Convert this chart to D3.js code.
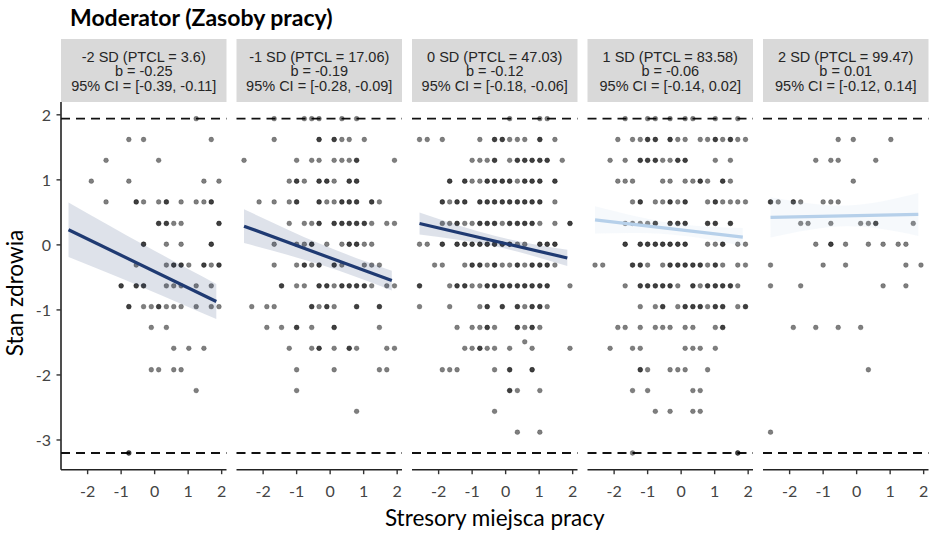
<!DOCTYPE html>
<html><head><meta charset="utf-8">
<script src="https://cdn.jsdelivr.net/npm/d3@7"></script>
<style>body{margin:0;background:#fff}svg{display:block}</style>
</head><body>
<svg id="c" width="933" height="533"></svg>
<script>
// ---------- data ----------
const titleText = "Moderator (Zasoby pracy)";
const xTitle = "Stresory miejsca pracy";
const yTitle = "Stan zdrowia";
const stripLabels = [
  ["-2 SD (PTCL = 3.6)", "b = -0.25", "95% CI = [-0.39, -0.11]"],
  ["-1 SD (PTCL = 17.06)", "b = -0.19", "95% CI = [-0.28, -0.09]"],
  ["0 SD (PTCL = 47.03)", "b = -0.12", "95% CI = [-0.18, -0.06]"],
  ["1 SD (PTCL = 83.58)", "b = -0.06", "95% CI = [-0.14, 0.02]"],
  ["2 SD (PTCL = 99.47)", "b = 0.01", "95% CI = [-0.12, 0.14]"]
];
const xTicks = [-2, -1, 0, 1, 2];
const yTicks = [2, 1, 0, -1, -2, -3];
// observed (discrete) values of the predictor and outcome
const xLevels = [-2.57,-2.34,-2.12,-1.89,-1.67,-1.45,-1.22,-1.00,-0.77,-0.55,-0.33,-0.10,0.12,0.35,0.57,0.79,1.02,1.24,1.47,1.69,1.92];
const yLevels = [1.94,1.62,1.30,0.98,0.66,0.33,0.01,-0.31,-0.63,-0.95,-1.27,-1.59,-1.92,-2.24,-2.56,-2.88,-3.20];
const refLines = [1.94, -3.20];
// points per panel: one list per outcome level (yLevels order), entries = index into xLevels (repeated = overlapping points)
const panel1 = [
 [17],[8,10,19],[5,12],[3,8,18,20],
 [5,9,9,10,12,13,13,15,17,18,19,19],
 [12,12,13,13,14,15,20,20],
 [10,10,13,15,19,19],
 [9,13,14,14,15,15,16,18,18,19,20,20],
 [7,7,9,9,10,10,13,14,15,17,19],
 [8,8,10,11,12,12,13,14,15,17,19,20],
 [11,13],[14,16,18],[11,12,14,15],[17],[],[],[8,8]
];
const panel2 = [
 [4,8,9,10,13,15],
 [4,10,10,12,12,13,14,16],
 [0,7,9,10,12,13,14,15,15,20],
 [6,7,7,8,10,10,11,11,12,14,14,15,15],
 [2,4,6,7,7,10,10,11,12,13,13,14,14,15,15,17,17,18],
 [6,8,9,10,10,12,12,13,13,14,14,15,15,16,16,17,19,20],
 [4,7,8,9,9,11,13,14,14,15,15,16,17],
 [4,7,8,8,9,10,10,12,12,13,16,17,18],
 [5,5,7,8,10,10,11,11,12,13,13,14,14,15,15,16,16,17,19,20],
 [1,3,4,9,9,10,11,11,12,15,15,18,18],
 [3,5,7,7,9,12,12,18],
 [6,9,10,10,12,14,14,15,19,20],
 [7,12,18,19],[7],[15],[],[]
];
const panel3 = [
 [12,16,17],
 [0,1,3,8,10,10,11,11,12,13,14,16,16,18],
 [7,8,9,10,10,12,13,13,14,14,15,15,16,16,17,17,19],
 [4,4,6,6,7,8,9,9,10,10,11,11,12,12,13,14,14,15,15,16,16,18,18],
 [3,3,4,5,5,6,6,8,8,9,9,10,10,11,11,12,12,13,13,14,14,15,15,16,16,18],
 [3,4,5,5,6,7,8,8,9,9,10,10,11,12,12,13,13,14,14,15,15,16,18,20,20],
 [0,1,3,3,5,5,6,6,7,7,8,8,9,9,10,10,11,11,12,12,13,14,16,16,17,17,18,18],
 [2,3,6,7,7,8,8,9,10,10,11,12,13,13,14,15,15,16,16,17,17,18],
 [0,0,4,5,5,6,6,7,8,9,9,10,10,11,11,12,12,13,13,14,14,15,15,16,16,17,17,20],
 [0,4,8,9,9,11,11,13,13,14,15,15,16,16,17],
 [5,7,8,9,9,10,13,13,14,15,15,16],
 [6,7,8,8,9,10,12,15,20],
 [3,4,5,10,12,12,15,15],
 [12,12,13,16],[10],[13,16],[]
];
const panel4 = [
 [4,7,8,10,12,13,16,19],
 [3,5,6,7,7,8,8,10,10,11,12,14,15,16,16,17,18,18,19,20],
 [2,4,6,6,7,7,8,8,9,10,11,11,12,12,16,18],
 [3,4,5,9,10,12,13,14,14,15,17,17,18],
 [5,6,6,8,9,10,10,11,12,12,15,16,16,17,18,19,20],
 [4,5,6,7,8,8,10,10,11,11,12,12,15,15,16,16,18,18],
 [4,4,6,6,7,7,8,8,9,9,10,10,11,11,12,12,15,16,17,17,19,20],
 [0,1,5,5,6,6,7,9,10,10,11,11,12,12,13,13,14,14,15,16,16,17,19,20],
 [4,6,6,7,7,8,8,9,9,10,10,11,13,13,14,15,15,16,16,17,17,18,18,19],
 [6,8,9,9,11,12,12,13,13,14,14,15,16,16,17,17,19,20,20],
 [3,4,6,8,9,10,12,13,16,17,17],
 [2,5,6,12,13,14,16],
 [6,6,7,10,11,12,15],
 [5,7,13,14],[8,10,13,14],[],[5,19,19]
];
const panel5 = [
 [],[9,11,16],[6,8,9,14],[11],
 [0,0,1,3,3,4,7,8,9],
 [4,5,8,12,13,14,14,19],
 [6,8,8,10,13,15,17,18],
 [0,7,10,18,20],
 [0,4,15,18],
 [],[3,6,9,12],[],[13],[],[],[0],[]
];
const panelPoints = [panel1, panel2, panel3, panel4, panel5];
// a point off the grid (panel 3)
const extraPoints = [{panel: 2, x: 0.57, y: -1.49}];
// simple slopes
const intercepts = [-0.41, -0.20, 0.02, 0.23, 0.45];
const slopes = [-0.25, -0.19, -0.12, -0.06, 0.01];
const lineRange = [-2.57, 1.84];
// CI half-widths read at ciX
const ciX = [-2.57, -0.30, 1.84];
const ciHalf = [
  [0.42, 0.33, 0.27],
  [0.26, 0.16, 0.15],
  [0.17, 0.08, 0.125],
  [0.21, 0.09, 0.14],
  [0.31, 0.16, 0.33]
];
const significant = [true, true, true, false, false];

// ---------- layout ----------
const svg = d3.select('#c');
const left0 = 61, panelW = 165.5, gap = 10;
const plotTop = 102, plotBottom = 469.7, stripTop = 39;
const darkCol = "#1f3a72", lightCol = "#b6d0ea";

const xr = d3.extent(xLevels), yr = d3.extent(yLevels);
const xPad = (xr[1]-xr[0])*0.05, yPad = (yr[1]-yr[0])*0.05;
const x = d3.scaleLinear().domain([xr[0]-xPad, xr[1]+xPad]).range([0, panelW]);
const y = d3.scaleLinear().domain([yr[0]-yPad, yr[1]+yPad]).range([plotBottom, plotTop]);

const labelFont = "Lato, 'Open Sans', sans-serif";

// title
svg.append('text').attr('x', 70).attr('y', 25.5)
  .attr('font-family', labelFont).attr('font-weight', 700).attr('font-size', 23)
  .attr('fill', '#000').text(titleText);

// y title
svg.append('text').attr('transform', `translate(23,293) rotate(-90)`)
  .attr('text-anchor', 'middle').attr('font-family', labelFont).attr('font-size', 22.5)
  .attr('fill', '#000').text(yTitle);

// x title
svg.append('text').attr('x', left0 + (5*panelW + 4*gap)/2).attr('y', 526)
  .attr('text-anchor', 'middle').attr('font-family', labelFont).attr('font-size', 22.5)
  .attr('fill', '#000').text(xTitle);

// y axis (first panel only)
const ya = svg.append('g');
ya.append('line').attr('x1', left0).attr('x2', left0).attr('y1', plotTop).attr('y2', plotBottom)
  .attr('stroke', '#222').attr('stroke-width', 1.6);
yTicks.forEach(t => {
  ya.append('line').attr('x1', left0-4.5).attr('x2', left0).attr('y1', y(t)).attr('y2', y(t))
    .attr('stroke', '#333').attr('stroke-width', 1.4);
  ya.append('text').attr('x', left0-10).attr('y', y(t)).attr('dy', '0.36em')
    .attr('text-anchor', 'end').attr('font-family', labelFont).attr('font-size', 16)
    .attr('fill', '#444').text(String(t));
});

const area = d3.area().curve(d3.curveNatural);
panelPoints.forEach((rows, i) => {
  const g = svg.append('g').attr('transform', `translate(${left0 + i*(panelW+gap)},0)`);
  // strip
  g.append('rect').attr('x', 0).attr('y', stripTop).attr('width', panelW).attr('height', plotTop - stripTop)
    .attr('fill', '#d9d9d9');
  stripLabels[i].forEach((s, li) => {
    g.append('text').attr('x', panelW/2).attr('y', 61.5 + li*14.8)
      .attr('text-anchor', 'middle').attr('font-family', "'Liberation Sans', Arial, sans-serif")
      .attr('font-size', 14.5).attr('fill', '#262626').text(s);
  });
  // reference dashed lines
  refLines.forEach(v => {
    g.append('line').attr('x1', 0).attr('x2', panelW).attr('y1', y(v)).attr('y2', y(v))
      .attr('stroke', '#111').attr('stroke-width', 1.8).attr('stroke-dasharray', '9,6');
  });
  // points
  const pts = [];
  rows.forEach((row, k) => row.forEach(j => pts.push({x: xLevels[j], y: yLevels[k]})));
  extraPoints.filter(e => e.panel === i).forEach(e => pts.push({x: e.x, y: e.y}));
  g.selectAll('circle.pt').data(pts).join('circle').attr('class', 'pt')
    .attr('cx', d => x(d.x)).attr('cy', d => y(d.y)).attr('r', 2.4)
    .attr('fill', '#000').attr('fill-opacity', 0.5)
    .attr('stroke', '#000').attr('stroke-opacity', 0.35).attr('stroke-width', 0.6);
  // ribbon
  const col = significant[i] ? darkCol : lightCol;
  const pred = v => intercepts[i] + slopes[i]*v;
  const ribbon = ciX.map((v, n) => [x(v), y(pred(v) + ciHalf[i][n]), y(pred(v) - ciHalf[i][n])]);
  g.append('path').attr('d', area.x(d => d[0]).y0(d => d[2]).y1(d => d[1])(ribbon))
    .attr('fill', col).attr('fill-opacity', significant[i] ? 0.15 : 0.12);
  // line
  g.append('line').attr('x1', x(lineRange[0])).attr('x2', x(lineRange[1]))
    .attr('y1', y(pred(lineRange[0]))).attr('y2', y(pred(lineRange[1])))
    .attr('stroke', col).attr('stroke-width', 3.2);
  // x axis
  g.append('line').attr('x1', 0).attr('x2', panelW).attr('y1', plotBottom).attr('y2', plotBottom)
    .attr('stroke', '#222').attr('stroke-width', 1.6);
  xTicks.forEach(t => {
    g.append('line').attr('x1', x(t)).attr('x2', x(t)).attr('y1', plotBottom).attr('y2', plotBottom+4.5)
      .attr('stroke', '#333').attr('stroke-width', 1.4);
    g.append('text').attr('x', x(t)).attr('y', 497).attr('text-anchor', 'middle')
      .attr('font-family', labelFont).attr('font-size', 16).attr('fill', '#444').text(String(t));
  });
});
</script>
</body></html>
